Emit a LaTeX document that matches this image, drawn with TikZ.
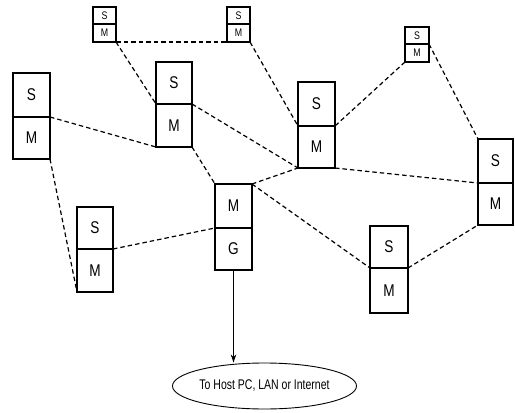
\documentclass[tikz,border=0pt]{standalone}
\usepackage{fontspec}
\newfontfamily\nfont[FakeStretch=0.8]{Liberation Sans}
\newfontfamily\hostfont[FakeStretch=0.75]{Liberation Sans}
\usetikzlibrary{shapes.geometric,arrows.meta}
\tikzset{
  cell/.style={draw, line width=1.8pt, rectangle, inner sep=0pt, outer sep=0pt, font=\nfont\fontsize{17}{17}\selectfont},
  smallcell/.style={cell, line width=1.6pt, font=\nfont\fontsize{11}{11}\selectfont},
  link/.style={line width=1.2pt, dash pattern=on 4.5pt off 3pt},
  uplink/.style={line width=1.1pt, -{Stealth[length=8pt,width=5.5pt]}},
  cloud/.style={draw, ellipse, line width=0.9pt, inner sep=0pt, minimum width=144pt, minimum height=46pt, font=\hostfont\fontsize{14}{14}\selectfont}
}
\begin{document}
\begin{tikzpicture}[x=1pt,y=-1pt]
\useasboundingbox (0,0) rectangle (515,413);
% small boxes
\node[smallcell, minimum width=23pt, minimum height=17pt] (a-s) at (104.5,15.5) {S};
\node[smallcell, minimum width=23pt, minimum height=18pt] (a-m) at (104.5,33) {M};
\node[smallcell, minimum width=23pt, minimum height=17pt] (b-s) at (238.5,15.5) {S};
\node[smallcell, minimum width=23pt, minimum height=18pt] (b-m) at (238.5,33) {M};
\node[smallcell, minimum width=24pt, minimum height=17pt] (c-s) at (417,35.5) {S};
\node[smallcell, minimum width=24pt, minimum height=18pt] (c-m) at (417,53) {M};
% large boxes
\node[cell, minimum width=37pt, minimum height=44pt] (d-s) at (31.5,95) {S};
\node[cell, minimum width=37pt, minimum height=42pt] (d-m) at (31.5,138) {M};
\node[cell, minimum width=36pt, minimum height=42pt] (e-s) at (174,83) {S};
\node[cell, minimum width=36pt, minimum height=43pt] (e-m) at (174,125.5) {M};
\node[cell, minimum width=37pt, minimum height=44pt] (f-s) at (316.5,104) {S};
\node[cell, minimum width=37pt, minimum height=42pt] (f-m) at (316.5,147) {M};
\node[cell, minimum width=35pt, minimum height=44pt] (h-s) at (495.5,161) {S};
\node[cell, minimum width=35pt, minimum height=42pt] (h-m) at (495.5,204) {M};
\node[cell, minimum width=37pt, minimum height=44pt] (g-m) at (233.5,206) {M};
\node[cell, minimum width=37pt, minimum height=42pt] (g-g) at (233.5,249) {G};
\node[cell, minimum width=36pt, minimum height=42pt] (k-s) at (95,228) {S};
\node[cell, minimum width=36pt, minimum height=43pt] (k-m) at (95,270.5) {M};
\node[cell, minimum width=38pt, minimum height=42pt] (l-s) at (389,247) {S};
\node[cell, minimum width=38pt, minimum height=45pt] (l-m) at (389,290.5) {M};
% host
\node[cloud] (host) at (264.5,386) {To Host PC, LAN or Internet};
% mesh links
\draw[link] (a-m.south east) -- (b-m.south west);
\draw[link] (a-m.south east) -- (e-m.north west);
\draw[link] (b-m.south east) -- (f-m.north west);
\draw[link] (c-m.south west) -- (f-m.north east);
\draw[link] (c-m.north east) -- (h-s.north west);
\draw[link] (d-m.north east) -- (e-m.south west);
\draw[link] (d-m.south east) -- (k-m.south west);
\draw[link] (e-m.north east) -- (f-m.south west);
\draw[link] (e-m.south east) -- (g-m.north west);
\draw[link] (g-m.north east) -- (f-m.south west);
\draw[link] (f-m.south east) -- (h-m.north west);
\draw[link] (g-m.north east) -- (l-m.north west);
\draw[link] (l-m.north east) -- (h-m.south west);
\draw[link] (k-m.north east) -- (g-g.north west);
% uplink
\draw[uplink] (g-g.south) -- (g-g.south |- host.north);
\end{tikzpicture}
\end{document}
